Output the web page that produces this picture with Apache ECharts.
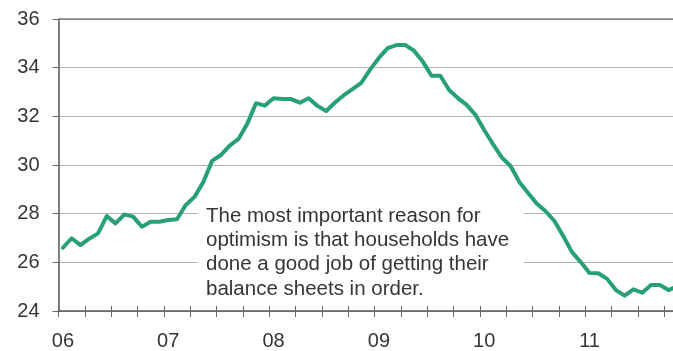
<!DOCTYPE html>
<html>
<head>
<meta charset="utf-8">
<script src="https://cdn.jsdelivr.net/npm/echarts@6/dist/echarts.min.js"></script>
<style>
  html, body { margin: 0; padding: 0; background: #fff; overflow: hidden; }
  /* The plot runs on past the right edge of the page; the page clips it */
  #chart { width: 700px; height: 351px; }
</style>
</head>
<body>
<div id="chart"></div>
<script>
// Year tick labels along the bottom axis
const years = ['06', '07', '08', '09', '10', '11'];

// Monthly values, one array per year
const v2006 = [26.60, 26.99, 26.71, 26.97, 27.19, 27.90, 27.60, 27.97, 27.88, 27.46, 27.67, 27.67];
const v2007 = [27.74, 27.77, 28.36, 28.69, 29.30, 30.17, 30.41, 30.80, 31.07, 31.69, 32.54, 32.44];
const v2008 = [32.74, 32.71, 32.71, 32.56, 32.74, 32.43, 32.22, 32.57, 32.87, 33.12, 33.38, 33.92];
const v2009 = [34.40, 34.80, 34.93, 34.93, 34.70, 34.25, 33.67, 33.67, 33.08, 32.75, 32.47, 32.06];
const v2010 = [31.44, 30.86, 30.31, 29.96, 29.30, 28.85, 28.41, 28.10, 27.70, 27.08, 26.42, 26.01];
const v2011 = [25.56, 25.55, 25.32, 24.86, 24.63, 24.89, 24.75, 25.07, 25.07, 24.86, 25.02];

// Value axis range and step
const yMin = 24;
const yMax = 36;
const yStep = 2;

// Annotation text
const note = [
  'The most important reason for',
  'optimism is that households have',
  'done a good job of getting their',
  'balance sheets in order.'
];

const FONT = '"Liberation Sans", Arial, Helvetica, sans-serif';
const TEXT = '#353535';
const GREEN = '#27a079';

// One category per month, labelled by its year at January
const months = [];
years.forEach(y => { for (let m = 1; m <= 12; m++) months.push(y + '-' + (m < 10 ? '0' + m : m)); });
const values = [].concat(v2006, v2007, v2008, v2009, v2010, v2011);

const chart = echarts.init(document.getElementById('chart'), null, { renderer: 'canvas' });

const option = {
  animation: false,
  backgroundColor: '#fff',
  grid: { left: 58.5, top: 19, width: 632, height: 292, containLabel: false },
  xAxis: [
    {
      type: 'category',
      data: months,
      boundaryGap: true,
      position: 'bottom',
      axisLine: { show: true, lineStyle: { color: '#555', width: 1.5 } },
      axisTick: { show: true, interval: 2, length: 6, lineStyle: { color: '#666', width: 1 } },
      axisLabel: {
        interval: 11,
        margin: 20,
        color: TEXT,
        fontFamily: FONT,
        fontSize: 20,
        formatter: v => v.slice(0, 2)
      },
      splitLine: { show: false }
    },
    {
      type: 'category',
      data: months,
      boundaryGap: true,
      position: 'bottom',
      offset: 0,
      axisLine: { show: false },
      axisTick: { show: true, inside: true, interval: 2, length: 5, lineStyle: { color: '#666', width: 1 } },
      axisLabel: { show: false },
      splitLine: { show: false }
    }
  ],
  yAxis: {
    type: 'value',
    min: yMin,
    max: yMax,
    interval: yStep,
    axisLine: { show: true, lineStyle: { color: '#555', width: 1.5 } },
    axisTick: { show: true, length: 6, lineStyle: { color: '#666', width: 1 } },
    axisLabel: { margin: 19, color: TEXT, fontFamily: FONT, fontSize: 20 },
    splitLine: { show: true, lineStyle: { color: '#b4b4b8', width: 1 } }
  },
  series: [
    {
      type: 'line',
      data: values,
      xAxisIndex: 0,
      symbol: 'none',
      smooth: false,
      lineStyle: { color: GREEN, width: 4, join: 'round', cap: 'round' },
      z: 3,
      markLine: {
        silent: true,
        symbol: ['none', 'none'],
        label: { show: false },
        lineStyle: { color: '#7d7d7d', width: 1.5, type: 'solid' },
        data: [{ yAxis: yMax }]
      }
    }
  ],
  graphic: [
    {
      type: 'rect',
      left: 198,
      top: 202,
      shape: { width: 326, height: 101 },
      style: { fill: '#fff' },
      z: 10
    },
    {
      type: 'text',
      left: 206,
      top: 204,
      style: {
        text: note.join('\n'),
        fill: TEXT,
        font: '20.5px ' + FONT,
        lineHeight: 24.3
      },
      z: 11
    }
  ]
};

chart.setOption(option);
</script>
</body>
</html>
